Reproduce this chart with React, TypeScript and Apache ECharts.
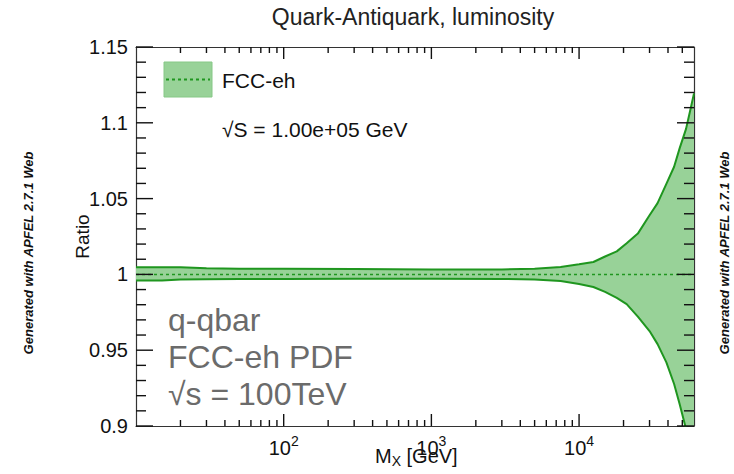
import React, { useEffect, useRef } from "react";
import * as echarts from "echarts";

const TITLE = "Quark-Antiquark, luminosity";
const LEGEND_LABEL = "FCC-eh";
const SQRTS_LABEL = "√S = 1.00e+05 GeV";
const INFO_LINES = ["q-qbar", "FCC-eh PDF", "√s = 100TeV"];
const SIDE_TEXT = "Generated with APFEL 2.7.1 Web";
const Y_NAME = "Ratio";
const X_NAME = "{m|M}{sub|X}{m| [GeV]}";

const mass = [10, 15, 20, 30, 50, 100, 300, 1000, 3000, 5000, 7500, 10000, 12500, 15000, 18000, 21000, 25000, 30000, 34000, 39000, 44000, 48000, 53000, 57000, 60000];
const upper = [1.0047, 1.0047, 1.0047, 1.0040, 1.0038, 1.0038, 1.0036, 1.0032, 1.0033, 1.0037, 1.0049, 1.0067, 1.0082, 1.0118, 1.0152, 1.0205, 1.0269, 1.0390, 1.0470, 1.0597, 1.0710, 1.0833, 1.0960, 1.1096, 1.1194];
const lower = [0.9959, 0.9959, 0.9967, 0.9968, 0.9969, 0.9970, 0.9972, 0.9972, 0.9970, 0.9966, 0.9956, 0.9937, 0.9917, 0.9885, 0.9845, 0.9804, 0.9722, 0.9626, 0.9540, 0.9420, 0.9277, 0.9143, 0.8980, 0.8870, 0.8770];
const central = mass.map(() => 1);

const X_MIN = 10;
const X_MAX = 60000;
const Y_MIN = 0.9;
const Y_MAX = 1.15;
const Y_STEP = 0.05;

const xMajorTicks = [100, 1000, 10000];
const xMinorTicks: number[] = [];
[10, 100, 1000, 10000].forEach((d) => {
  for (let k = 2; k <= 9; k++) if (k * d < X_MAX) xMinorTicks.push(k * d);
});
const yMajorTicks: number[] = [];
const yMinorTicks: number[] = [];
for (let i = 90; i <= 115; i++) {
  if (i % 5 === 0) yMajorTicks.push(i / 100);
  else yMinorTicks.push(i / 100);
}

const FONT = "Liberation Sans, Arial, Helvetica, sans-serif";
const FILL = "#98d298";
const LINE = "#1f961f";
const TICK = "#111";
const TICK_W = 1.4;

export default function App() {
  const ref = useRef<HTMLDivElement>(null);
  useEffect(() => {
    document.body.style.margin = "0";
    const chart = echarts.init(ref.current!, undefined, { renderer: "svg" });
    const pair = (arr: number[]) => mass.map((m, i) => [m, arr[i]]);
    const xFormatter = (v: number) => {
      const e = Math.round(Math.log10(v));
      if (e < 2 || Math.abs(v - Math.pow(10, e)) > 1e-6 * v) return "";
      return `{b|10}{s|${e}}`;
    };
    const baseX = {
      type: "log",
      logBase: 10,
      min: X_MIN,
      max: X_MAX,
      axisLine: { show: true, lineStyle: { color: "#333", width: 1.2 } },
      axisTick: { show: false },
      splitLine: { show: false },
    };
    const baseY = {
      type: "value",
      min: Y_MIN,
      max: Y_MAX,
      interval: Y_STEP,
      axisLine: { show: true, lineStyle: { color: "#333", width: 1.2 } },
      axisTick: { show: false },
      minorTick: { show: false },
      splitLine: { show: false },
    };
    const staticGraphic: any[] = [
      {
        type: "text",
        x: 413,
        y: 17,
        style: { text: TITLE, fontSize: 23, fontFamily: FONT, fill: "#222", align: "center", verticalAlign: "middle" },
      },
      {
        type: "text",
        x: 375,
        y: 456,
        style: {
          text: X_NAME,
          fontFamily: FONT,
          verticalAlign: "middle",
          rich: {
            m: { fontSize: 20, fontFamily: FONT, fill: "#111" },
            sub: { fontSize: 14, fontFamily: FONT, fill: "#111", padding: [10, 0, 0, 0] },
          },
        },
        z: 11,
      },
      {
        type: "rect",
        shape: { x: 164, y: 62, width: 48, height: 35 },
        style: { fill: FILL, stroke: "#86c886", lineWidth: 1 },
        z: 10,
      },
      {
        type: "line",
        shape: { x1: 166, y1: 79.5, x2: 210, y2: 79.5 },
        style: { stroke: LINE, lineWidth: 2, lineDash: [3, 3] },
        z: 11,
      },
      {
        type: "text",
        x: 222,
        y: 80,
        style: { text: LEGEND_LABEL, fontSize: 21, fontFamily: FONT, fill: "#111", verticalAlign: "middle" },
        z: 11,
      },
      {
        type: "text",
        x: 222,
        y: 129,
        style: { text: SQRTS_LABEL, fontSize: 21, fontFamily: FONT, fill: "#111", verticalAlign: "middle" },
        z: 11,
      },
      ...INFO_LINES.map((t, i) => ({
        type: "text",
        x: 168,
        y: 320 + i * 37,
        style: { text: t, fontSize: 32, fontFamily: FONT, fill: "#6b6b6b", verticalAlign: "middle" },
        z: 11,
      })),
      {
        type: "text",
        x: 28,
        y: 253,
        rotation: Math.PI / 2,
        style: { text: SIDE_TEXT, fontSize: 13, fontWeight: "bold", fontStyle: "italic", fontFamily: FONT, fill: "#111", align: "center", verticalAlign: "middle" },
      },
      {
        type: "text",
        x: 724,
        y: 253,
        rotation: Math.PI / 2,
        style: { text: SIDE_TEXT, fontSize: 13, fontWeight: "bold", fontStyle: "italic", fontFamily: FONT, fill: "#111", align: "center", verticalAlign: "middle" },
      },
    ];
    const option: any = {
      animation: false,
      grid: { left: 136, right: 40, top: 47, bottom: 48, outerBoundsMode: "none" },
      xAxis: [
        {
          ...baseX,
          position: "bottom",
          axisLabel: {
            formatter: xFormatter,
            margin: 8,
            color: "#111",
            rich: {
              b: { fontSize: 20, fontFamily: FONT, color: "#111" },
              s: { fontSize: 14, fontFamily: FONT, color: "#111", padding: [0, 0, 14, 0] },
            },
          },
        },
        { ...baseX, position: "top", axisLabel: { show: false } },
      ],
      yAxis: [
        {
          ...baseY,
          position: "left",
          axisLabel: { fontSize: 20, color: "#111", margin: 8, fontFamily: FONT },
          name: Y_NAME,
          nameLocation: "middle",
          nameRotate: 90,
          nameGap: 44,
          nameMoveOverlap: false,
          nameTextStyle: { fontSize: 19, color: "#111", fontFamily: FONT },
        },
        { ...baseY, position: "right", axisLabel: { show: false } },
      ],
      series: [
        {
          type: "custom",
          data: [[X_MIN, Y_MIN]],
          encode: { x: 0, y: 1 },
          renderItem: (params: any, api: any) => {
            const pts: number[][] = [];
            mass.forEach((m, i) => pts.push(api.coord([m, upper[i]])));
            for (let i = mass.length - 1; i >= 0; i--) pts.push(api.coord([mass[i], lower[i]]));
            const cs = params.coordSys;
            return {
              type: "polygon",
              shape: { points: pts },
              style: { fill: FILL, stroke: "none" },
              clipPath: { type: "rect", shape: { x: cs.x, y: cs.y, width: cs.width, height: cs.height } },
            };
          },
        },
        { type: "line", data: pair(upper), symbol: "none", lineStyle: { color: LINE, width: 2 } },
        { type: "line", data: pair(lower), symbol: "none", lineStyle: { color: LINE, width: 2 } },
        { type: "line", data: pair(central), symbol: "none", lineStyle: { color: LINE, width: 1.5, type: [3, 3] } },
      ],
      graphic: staticGraphic,
    };
    chart.setOption(option);

    // Tick marks placed through the chart's own axis scales (convertToPixel), drawn as thin filled rects.
    const toPx = (x: number, y: number) => chart.convertToPixel({ gridIndex: 0 }, [x, y]) as number[];
    const tickRects: any[] = [];
    const vTick = (x: number, len: number) => {
      const b = toPx(x, Y_MIN);
      const t = toPx(x, Y_MAX);
      tickRects.push({ type: "rect", shape: { x: b[0] - TICK_W / 2, y: b[1] - len, width: TICK_W, height: len }, style: { fill: TICK }, z: 20 });
      tickRects.push({ type: "rect", shape: { x: t[0] - TICK_W / 2, y: t[1], width: TICK_W, height: len }, style: { fill: TICK }, z: 20 });
    };
    const hTick = (y: number, len: number) => {
      const l = toPx(X_MIN, y);
      const r = toPx(X_MAX, y);
      tickRects.push({ type: "rect", shape: { x: l[0], y: l[1] - TICK_W / 2, width: len, height: TICK_W }, style: { fill: TICK }, z: 20 });
      tickRects.push({ type: "rect", shape: { x: r[0] - len, y: r[1] - TICK_W / 2, width: len, height: TICK_W }, style: { fill: TICK }, z: 20 });
    };
    xMajorTicks.forEach((v) => vTick(v, 12));
    xMinorTicks.forEach((v) => vTick(v, 6));
    yMajorTicks.forEach((v) => hTick(v, 17));
    yMinorTicks.forEach((v) => hTick(v, 10));
    chart.setOption({ graphic: [...staticGraphic, ...tickRects] });

    return () => chart.dispose();
  }, []);
  return <div ref={ref} style={{ width: 734, height: 474, background: "#fff" }} />;
}
